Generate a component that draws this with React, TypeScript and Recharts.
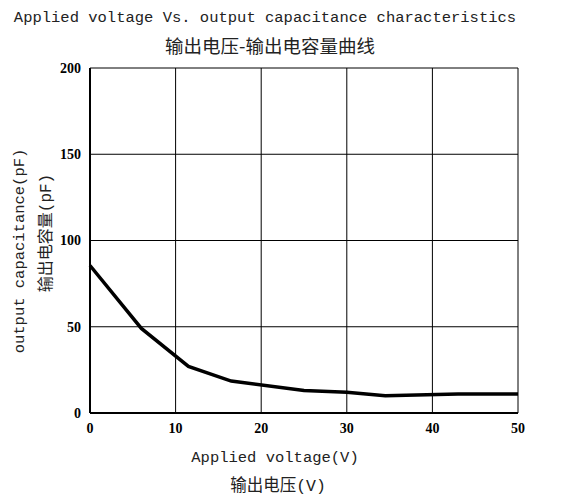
import React from 'react';
import { LineChart, Line, XAxis, YAxis, CartesianGrid } from 'recharts';

const voltage = [0, 6, 11.5, 16.5, 25, 30, 34.5, 43, 50];
const capacitance = [85.5, 49, 27, 18.5, 13, 12, 10, 11, 11];
const xTicks = [0, 10, 20, 30, 40, 50];
const yTicks = [0, 50, 100, 150, 200];

const data = voltage.map((v, i) => ({ v, c: capacitance[i] }));

const latin = '"Liberation Mono", "DejaVu Sans Mono", "Noto Sans CJK SC", monospace';
const tickFont = { fontFamily: '"Liberation Serif", serif', fontWeight: 700, fontSize: 14, fill: '#000' };

export default function App() {
  return (
    <div style={{ position: 'absolute', left: 0, top: 0, width: 569, height: 495, background: '#fff' }}>
      <LineChart width={569} height={495} data={data} margin={{ top: 68, right: 51, bottom: 0, left: 0 }}>
        <CartesianGrid stroke="#000" strokeWidth={1} />
        <XAxis dataKey="v" type="number" domain={[0, 50]} ticks={xTicks} height={82} tickSize={0} tickMargin={10}
          axisLine={{ stroke: '#000', strokeWidth: 2 }} tick={tickFont} interval={0} />
        <YAxis type="number" domain={[0, 200]} ticks={yTicks} width={90} tickSize={0} tickMargin={9}
          axisLine={{ stroke: '#000', strokeWidth: 2 }} tick={tickFont} interval={0} />
        <Line dataKey="c" type="linear" stroke="#000" strokeWidth={3.5} dot={false} isAnimationActive={false} />
      </LineChart>
      <div style={{ position: 'absolute', left: 0, width: 530, top: 9, textAlign: 'center', fontFamily: latin, fontSize: 15.5, color: '#222', whiteSpace: 'nowrap' }}>
        Applied voltage Vs. output capacitance characteristics
      </div>
      <div style={{ position: 'absolute', left: 0, width: 540, top: 32, textAlign: 'center', fontFamily: '"Noto Sans CJK SC", sans-serif', fontSize: 18.5, color: '#222', whiteSpace: 'nowrap' }}>
        输出电压-输出电容量曲线
      </div>
      <div style={{ position: 'absolute', left: 0, width: 550, top: 449, textAlign: 'center', fontFamily: latin, fontSize: 15.5, color: '#222', whiteSpace: 'nowrap' }}>
        Applied voltage(V)
      </div>
      <div style={{ position: 'absolute', left: 0, width: 556, top: 472, textAlign: 'center', fontFamily: latin, fontSize: 16.5, color: '#222', whiteSpace: 'nowrap' }}>
        输出电压(V)
      </div>
      <div style={{ position: 'absolute', left: 20, top: 251, width: 0, height: 0 }}>
        <div style={{ position: 'absolute', left: 0, top: 0, transform: 'translate(-50%, -50%) rotate(-90deg)', fontFamily: latin, fontSize: 15.5, color: '#222', whiteSpace: 'nowrap' }}>
          output capacitance(pF)
        </div>
      </div>
      <div style={{ position: 'absolute', left: 44, top: 233, width: 0, height: 0 }}>
        <div style={{ position: 'absolute', left: 0, top: 0, transform: 'translate(-50%, -50%) rotate(-90deg)', fontFamily: latin, fontSize: 16, color: '#222', whiteSpace: 'nowrap' }}>
          输出电容量(pF)
        </div>
      </div>
    </div>
  );
}
